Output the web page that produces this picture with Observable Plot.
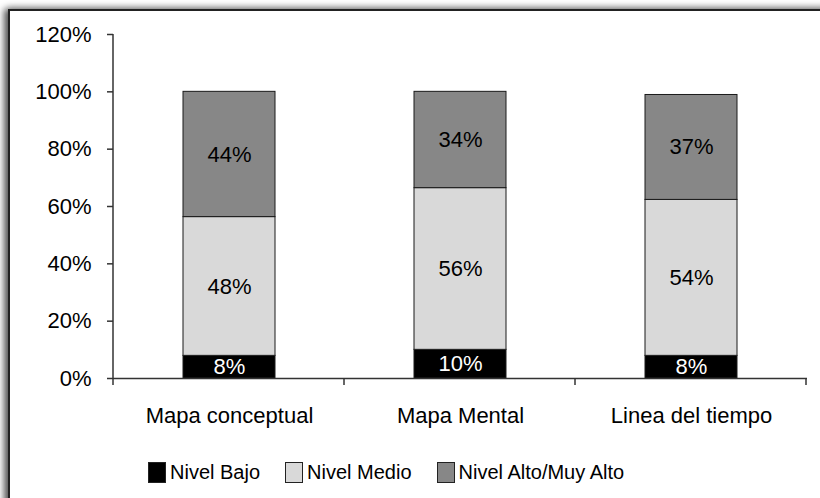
<!DOCTYPE html>
<html>
<head>
<meta charset="utf-8">
<script src="https://cdn.jsdelivr.net/npm/d3@7"></script>
<script src="https://cdn.jsdelivr.net/npm/@observablehq/plot@0.6"></script>
<style>
  html, body { margin: 0; padding: 0; background: #fff; }
  body { width: 820px; height: 498px; position: relative; overflow: hidden; font-family: "Liberation Sans", Arial, Helvetica, sans-serif; }
  #frame { position: absolute; left: 8px; top: 9px; width: 900px; height: 600px;
           border-left: 2px solid #222; border-top: 2px solid #222;
           box-shadow: -4px 0 7px rgba(0,0,0,0.65), 0 -3px 6px rgba(0,0,0,0.15); background: #fff; }
  #chart { position: absolute; left: 0; top: 0; }
  #legend { position: absolute; left: 148px; top: 461px; display: flex; align-items: center; font-size: 20px; color: #000; }
  .item { display: flex; align-items: center; margin-right: 25px; }
  .sw { width: 16px; height: 19px; border: 1px solid #222; margin-right: 4px; }
</style>
</head>
<body>
<div id="frame"></div>
<div id="chart"></div>
<div id="legend"></div>
<script>
const categories = ["Mapa conceptual", "Mapa Mental", "Linea del tiempo"];
const levels = ["Nivel Bajo", "Nivel Medio", "Nivel Alto/Muy Alto"];
const nivelBajo = [7.9, 10.0, 7.9];
const nivelMedio = [48.4, 56.4, 54.4];
const nivelAlto = [43.7, 33.6, 36.6];
const yTicks = [0, 20, 40, 60, 80, 100, 120];
const colors = ["#000000", "#d9d9d9", "#878787"];
const textColors = ["#ffffff", "#000000", "#000000"];

const series = [nivelBajo, nivelMedio, nivelAlto];
const data = [];
categories.forEach((c, i) => {
  levels.forEach((l, j) => data.push({category: c, level: l, value: series[j][i]}));
});

const plot = Plot.plot({
  width: 820,
  height: 440,
  marginLeft: 113,
  marginRight: 13,
  marginTop: 34,
  marginBottom: 62,
  style: {fontFamily: '"Liberation Sans", Arial, Helvetica, sans-serif', fontSize: "22px", color: "#000", background: "transparent"},
  x: {domain: categories, paddingInner: 0.6, paddingOuter: 0.3, label: null},
  y: {domain: [0, 120], label: null},
  color: {domain: levels, range: colors},
  marks: [
    Plot.barY(data, Plot.stackY({x: "category", y: "value", z: "level", order: levels, fill: "level", stroke: "#1a1a1a", strokeWidth: 1})),
    Plot.text(data, Plot.stackY({x: "category", y: "value", z: "level", order: levels,
      text: d => Math.round(d.value) + "%",
      fill: d => textColors[levels.indexOf(d.level)], fontSize: 22})),
    Plot.ruleY([0], {stroke: "#333", strokeWidth: 1.5}),
    Plot.axisY({ticks: yTicks, tickFormat: d => d + "%", tickSize: 6, tickPadding: 16, stroke: "#333", strokeWidth: 1.5, fill: "#000", fontSize: 22, label: null}),
    Plot.axisX({tickSize: 0, tickPadding: 29, fill: "#000", fontSize: 22, label: null})
  ]
});

const svg = d3.select(plot);
const xs = plot.scale("x");
const ys = plot.scale("y");
const x0 = xs.range[0], step = xs.step;
const yBase = ys.apply(0), yTop = ys.apply(120);
const g = svg.append("g").attr("stroke", "#333").attr("stroke-width", 1.5);
g.append("line").attr("x1", x0).attr("x2", x0).attr("y1", yTop).attr("y2", yBase + 7);
for (let k = 1; k <= categories.length; k++) {
  const xb = x0 + k * step;
  g.append("line").attr("x1", xb).attr("x2", xb).attr("y1", yBase).attr("y2", yBase + 7);
}
document.getElementById("chart").appendChild(plot);

const legend = d3.select("#legend");
levels.forEach((l, j) => {
  const it = legend.append("div").attr("class", "item");
  it.append("div").attr("class", "sw").style("background", colors[j]);
  it.append("span").text(l);
});
</script>
</body>
</html>
